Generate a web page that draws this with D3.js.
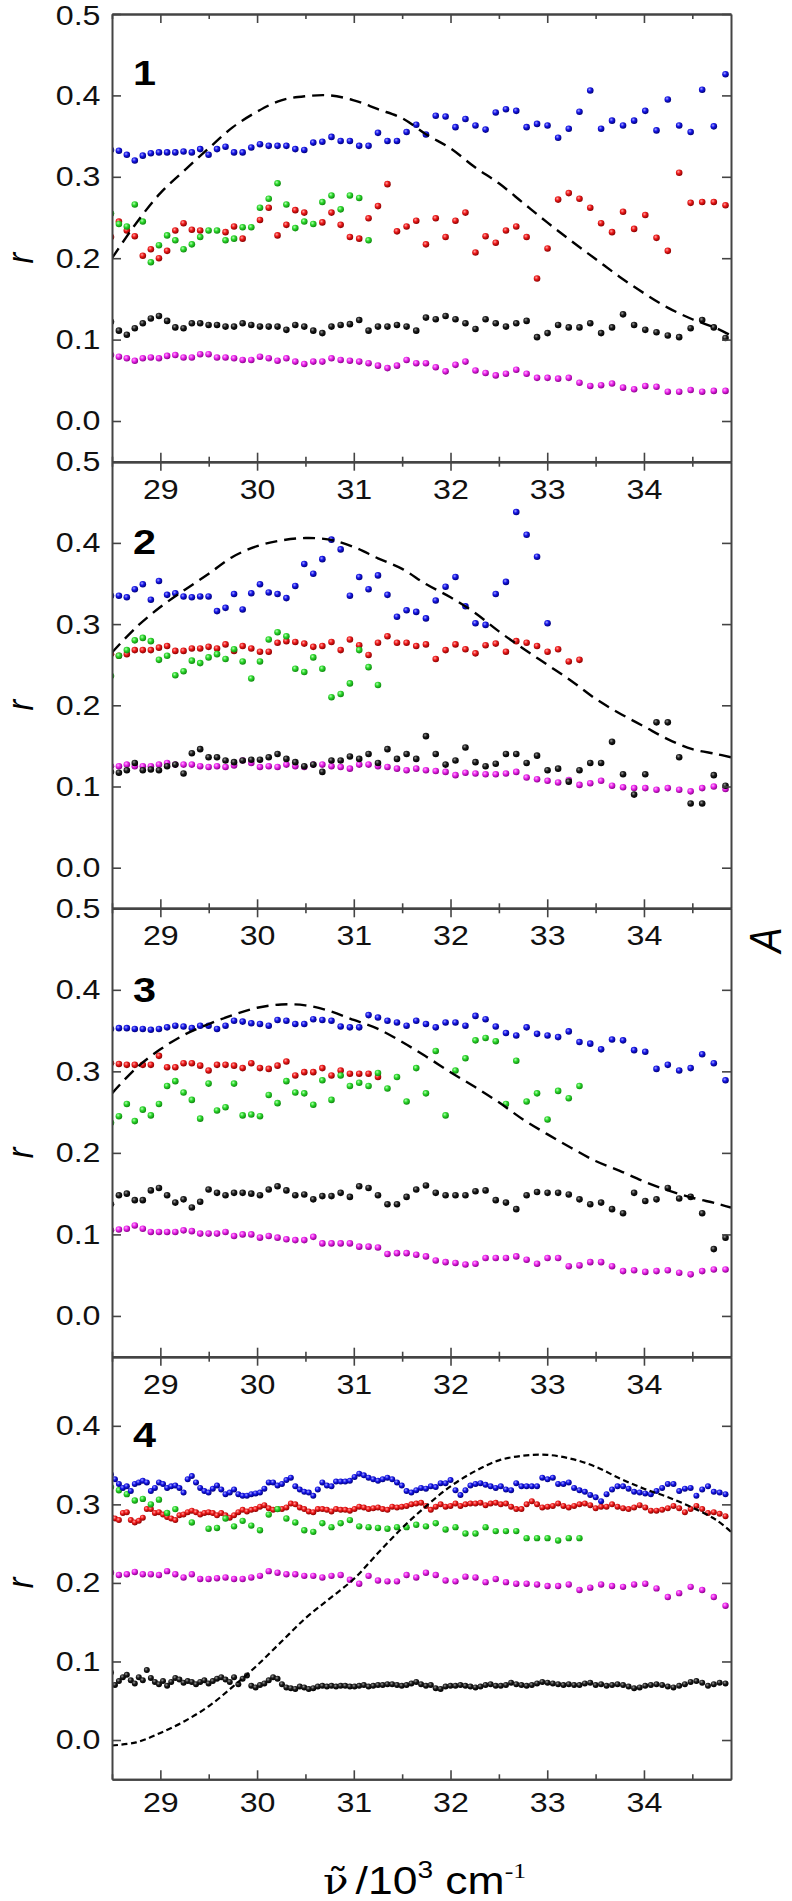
<!DOCTYPE html>
<html>
<head>
<meta charset="utf-8">
<script src="https://cdn.jsdelivr.net/npm/d3@7"></script>
<style>
body { margin: 0; background: #fff; }
svg { display: block; }
.axis path, .axis line { stroke: #444; }
.axis path { stroke-width: 2; }
.axis line { stroke-width: 1.6; }
.axis text { font-family: "Liberation Sans", Arial, sans-serif; font-size: 28px; fill: #111; }
</style>
</head>
<body>
<script>
var fullWidth = 792;
var fullHeight = 1901;
var plotLeft = 112, plotRight = 731;

// wavelength grids (nm) the points sit on
var lambda1 = [351,350,349,348,347,346,345,344,343,342,341,340,339,338,337,336,335,334,333,332,331,330,329,328,327,326,325,324,323,322,321,320,319,318,317,316,315,314,313,312,311,310,309,308,307,306,305,304,303,302,301,300,299,298,297,296,295,294,293,292,291,290,289,288,287];
var lambdaHalf = [351,350.5,350,349.5,349,348.5,348,347.5,347,346.5,346,345.5,345,344.5,344,343.5,343,342.5,342,341.5,341,340.5,340,339.5,339,338.5,338,337.5,337,336.5,336,335.5,335,334.5,334,333.5,333,332.5,332,331.5,331,330.5,330,329.5,329,328.5,328,327.5,327,326.5,326,325.5,325,324.5,324,323.5,323,322.5,322,321.5,321,320.5,320,319.5,319,318.5,318,317.5,317,316.5,316,315.5,315,314.5,314,313.5,313,312.5,312,311.5,311,310.5,310,309.5,309,308.5,308,307.5,307,306.5,306,305.5,305,304.5,304,303.5,303,302.5,302,301.5,301,300.5,300,299.5,299,298.5,298,297.5,297,296.5,296,295.5,295,294.5,294,293.5,293,292.5,292,291.5,291,290.5,290,289.5,289,288.5,288,287.5,287];

// dashed absorption curves, sampled in wavenumber
var curveNu = [28.5,28.75,29,29.25,29.5,29.75,30,30.25,30.5,30.75,31,31.25,31.5,31.75,32,32.25,32.5,32.75,33,33.25,33.5,33.75,34,34.25,34.5,34.75,34.9];
var curve1 = [0.200,0.243,0.280,0.308,0.335,0.361,0.380,0.394,0.399,0.400,0.394,0.383,0.372,0.352,0.335,0.312,0.292,0.268,0.244,0.221,0.199,0.177,0.157,0.139,0.125,0.114,0.105];
var curve2 = [0.265,0.296,0.321,0.342,0.362,0.383,0.396,0.403,0.406,0.404,0.395,0.381,0.368,0.349,0.333,0.314,0.291,0.270,0.250,0.230,0.208,0.190,0.174,0.158,0.146,0.140,0.136];
var curve3 = [0.273,0.304,0.327,0.345,0.358,0.369,0.378,0.382,0.381,0.374,0.363,0.352,0.336,0.318,0.299,0.281,0.262,0.241,0.223,0.206,0.190,0.178,0.165,0.154,0.145,0.138,0.133];
var curve4 = [-0.007,-0.003,0.009,0.024,0.043,0.068,0.095,0.125,0.155,0.180,0.205,0.238,0.270,0.298,0.323,0.342,0.356,0.362,0.363,0.358,0.348,0.333,0.320,0.309,0.296,0.280,0.265];

// panel 1
var p1Blue = [0.333,0.332,0.327,0.320,0.326,0.329,0.330,0.330,0.330,0.331,0.330,0.334,0.327,0.334,0.337,0.330,0.330,0.336,0.340,0.338,0.338,0.338,0.334,0.333,0.342,0.343,0.349,0.344,0.344,0.338,0.338,0.354,0.344,0.344,
  0.355,0.364,0.352,0.375,0.374,0.361,0.371,0.363,0.358,0.379,0.383,0.381,0.361,0.365,0.363,0.348,0.359,0.380,0.406,0.359,0.369,0.363,0.369,0.381,0.357,0.395,0.363,0.355,0.407,0.362,0.426];
var p1Red = [0.226,0.245,0.234,0.227,0.203,0.211,0.200,0.209,0.234,0.243,0.235,0.234,null,null,0.232,0.239,0.224,null,0.247,0.262,0.228,0.241,0.259,0.256,null,0.244,0.256,0.241,0.226,0.224,0.249,0.264,0.291,0.233,
  0.239,0.246,0.217,0.249,0.226,0.246,0.256,0.207,0.227,0.219,0.234,0.239,0.226,0.175,0.212,0.272,0.280,0.273,0.262,0.243,0.232,0.257,0.236,0.253,0.225,0.209,0.305,0.268,0.269,0.269,0.265];
var p1Green = [0.255,0.242,0.239,0.266,0.245,0.195,0.216,0.228,0.222,0.211,0.217,0.226,0.234,0.234,0.222,0.224,0.238,0.238,0.262,0.273,0.292,0.266,0.237,0.245,0.242,0.269,0.277,0.260,0.277,0.274,0.222];
var p1Black = [0.122,0.111,0.106,0.114,0.120,0.126,0.129,0.123,0.115,0.114,0.120,0.120,0.118,0.118,0.116,0.116,0.120,0.118,0.116,0.116,0.116,0.112,0.118,0.116,0.111,0.108,0.116,0.118,0.119,0.124,0.111,0.116,0.116,0.118,
  0.116,0.111,0.127,0.125,0.129,0.125,0.120,0.113,0.125,0.120,0.116,0.120,0.123,0.103,0.108,0.118,0.115,0.115,0.120,0.108,0.115,0.131,0.118,0.112,0.109,0.105,0.103,0.114,0.124,0.115,0.102];
var p1Magenta = [0.081,0.079,0.077,0.074,0.077,0.078,0.077,0.080,0.081,0.078,0.078,0.082,0.082,0.078,0.078,0.077,0.075,0.075,0.079,0.077,0.074,0.077,0.073,0.070,0.073,0.073,0.077,0.075,0.074,0.073,0.071,0.068,0.065,0.068,
  0.075,0.071,0.071,0.066,0.061,0.069,0.073,0.062,0.059,0.056,0.058,0.063,0.058,0.053,0.053,0.052,0.053,0.047,0.043,0.044,0.046,0.041,0.039,0.043,0.042,0.036,0.036,0.038,0.036,0.037,0.037];

// panel 2
var p2Blue = [0.335,0.335,0.333,0.343,0.349,0.330,0.353,0.336,0.338,0.334,0.333,0.334,0.334,0.316,0.320,0.337,0.318,0.338,0.349,0.339,0.337,0.332,0.347,0.374,0.362,0.380,0.404,0.392,0.335,0.358,0.343,0.360,0.336,0.309,
  0.317,0.315,0.307,0.329,0.346,0.358,0.322,0.301,0.299,0.337,0.352,0.438,0.410,0.383,0.301];
var p2Red = [0.263,0.261,0.263,0.268,0.268,0.268,0.271,0.273,0.267,0.267,0.270,0.270,0.272,0.270,0.275,0.267,0.273,0.270,0.266,0.266,0.277,0.279,0.278,0.276,0.272,0.273,0.278,0.268,0.281,0.274,0.262,0.277,0.285,0.277,
  0.277,0.273,0.275,0.257,0.268,0.275,0.269,0.264,0.274,0.276,0.266,0.279,0.277,0.273,0.266,0.269,0.254,0.256];
var p2Green = [0.236,0.261,0.268,0.280,0.283,0.279,0.256,0.261,0.237,0.242,0.255,0.252,0.259,0.263,0.257,0.269,0.254,0.233,0.254,0.281,0.290,0.285,0.245,0.241,0.259,0.245,0.210,0.214,0.227,0.268,0.247,0.225];
var p2Black = [0.118,0.117,0.120,0.129,0.120,0.121,0.120,0.125,0.127,0.116,0.141,0.146,0.136,0.136,0.132,0.130,0.132,0.133,0.133,0.136,0.140,0.134,0.130,0.125,0.127,0.118,0.132,0.132,0.137,0.134,0.140,0.129,0.146,0.134,
  0.140,0.134,0.162,0.140,0.127,0.132,0.148,0.130,0.125,0.128,0.140,0.140,0.129,0.138,0.120,0.122,0.106,0.120,0.129,0.129,0.155,0.115,0.090,0.115,0.179,0.179,0.136,0.079,0.079,0.114,0.101];
var p2Magenta = [0.125,0.125,0.127,0.125,0.125,0.125,0.127,0.129,0.127,0.127,0.127,0.125,0.124,0.125,0.124,0.126,0.132,0.129,0.124,0.125,0.124,0.127,0.125,0.124,0.127,0.127,0.125,0.124,0.122,0.127,0.127,0.125,0.124,0.122,
  0.120,0.122,0.120,0.119,0.118,0.114,0.117,0.116,0.115,0.115,0.116,0.118,0.111,0.109,0.107,0.105,0.108,0.102,0.104,0.107,0.101,0.099,0.098,0.098,0.096,0.098,0.096,0.094,0.098,0.100,0.097];

// panel 3
var p3Blue = [0.352,0.353,0.353,0.352,0.352,0.351,0.352,0.354,0.356,0.355,0.353,0.356,0.356,0.352,0.356,0.362,0.361,0.359,0.358,0.356,0.363,0.362,0.358,0.358,0.364,0.363,0.362,0.355,0.354,0.354,0.369,0.366,0.362,0.360,
  0.356,0.362,0.358,0.354,0.360,0.360,0.356,0.368,0.364,0.355,0.347,0.344,0.354,0.346,0.344,0.342,0.349,0.336,0.334,0.327,0.339,0.338,0.326,0.324,0.303,0.308,0.301,0.304,0.321,0.310,0.289];
var p3Red = [0.310,0.309,0.308,0.308,0.308,0.308,0.319,0.305,0.305,0.310,0.310,0.307,0.301,0.308,0.308,0.307,0.304,0.310,0.304,0.303,0.307,0.312,0.295,0.299,0.299,0.304,0.295,0.301,0.297,0.297,0.297,0.293];
var p3Green = [0.237,0.245,0.260,0.239,0.253,0.246,0.260,0.282,0.288,0.274,0.265,0.242,0.285,0.252,0.256,0.285,0.246,0.247,0.245,0.271,0.261,0.288,0.274,0.273,0.259,0.289,0.265,0.295,0.282,0.286,0.282,0.298,0.279,0.293,
  0.263,0.304,0.273,0.325,0.246,0.301,0.316,0.338,0.341,0.337,0.260,0.313,0.263,0.273,0.241,0.276,0.267,0.282];
var p3Black = [0.137,0.148,0.150,0.142,0.142,0.154,0.157,0.148,0.139,0.143,0.133,0.140,0.155,0.151,0.148,0.151,0.151,0.150,0.148,0.155,0.159,0.154,0.148,0.149,0.143,0.147,0.147,0.151,0.146,0.159,0.157,0.148,0.137,0.137,
  0.146,0.155,0.160,0.151,0.148,0.148,0.148,0.153,0.154,0.142,0.139,0.131,0.148,0.152,0.151,0.151,0.149,0.143,0.137,0.139,0.131,0.126,0.151,0.141,0.143,0.157,0.144,0.146,0.126,0.082,0.096];
var p3Magenta = [0.105,0.106,0.107,0.111,0.107,0.103,0.103,0.103,0.103,0.105,0.104,0.101,0.101,0.101,0.103,0.098,0.100,0.100,0.096,0.098,0.096,0.094,0.093,0.093,0.097,0.089,0.089,0.089,0.089,0.085,0.085,0.084,0.076,0.077,
  0.077,0.075,0.073,0.068,0.066,0.065,0.063,0.064,0.071,0.071,0.071,0.073,0.069,0.064,0.071,0.071,0.061,0.062,0.066,0.066,0.061,0.055,0.056,0.054,0.055,0.056,0.053,0.051,0.055,0.057,0.057];

// panel 4 (blue, red, black on the half-nm grid)
var p4Blue = [0.338,0.332,0.326,0.321,0.323,0.317,0.326,0.328,0.330,0.328,0.317,0.321,0.328,0.326,0.321,0.323,0.324,0.321,0.315,0.332,0.336,0.328,0.321,0.317,0.315,0.320,0.324,0.319,0.313,0.315,0.319,0.313,0.311,0.311,0.313,0.314,0.315,0.320,0.328,0.328,0.324,0.326,0.331,0.334,0.323,0.319,0.316,0.315,0.311,0.319,0.328,0.324,0.323,
  0.329,0.329,0.329,0.330,0.335,0.339,0.337,0.334,0.332,0.330,0.332,0.334,0.332,0.328,0.324,0.317,0.315,0.318,0.321,0.320,0.323,0.322,0.327,0.327,0.331,0.318,0.312,0.318,0.324,0.326,0.327,0.325,0.323,0.321,
  0.323,0.319,0.318,0.327,0.323,0.323,0.323,0.323,0.334,0.332,0.334,0.326,0.326,0.328,0.321,0.318,0.316,0.312,0.309,0.304,0.313,0.319,0.323,0.323,0.320,0.316,0.315,0.314,0.313,0.317,0.321,0.326,0.326,0.317,0.320,0.321,0.311,0.319,0.323,0.316,0.315,0.313];
var p4Red = [0.284,0.282,0.280,0.289,0.290,0.280,0.277,0.279,0.283,0.294,0.294,0.289,0.290,0.287,0.284,0.282,0.280,0.286,0.287,0.290,0.292,0.290,0.287,0.289,0.290,0.289,0.286,0.289,0.286,0.283,0.286,0.290,0.293,0.291,0.293,0.294,0.297,0.299,0.295,0.293,0.294,0.294,0.296,0.301,0.300,0.296,0.294,0.291,0.290,0.294,0.294,0.293,0.291,
  0.294,0.293,0.293,0.292,0.294,0.297,0.296,0.294,0.295,0.296,0.294,0.293,0.297,0.296,0.297,0.298,0.300,0.301,0.302,0.298,0.293,0.297,0.300,0.297,0.298,0.301,0.298,0.300,0.301,0.301,0.302,0.299,0.301,0.302,
  0.300,0.301,0.297,0.294,0.294,0.300,0.304,0.300,0.296,0.297,0.298,0.301,0.298,0.296,0.298,0.300,0.301,0.299,0.295,0.297,0.297,0.300,0.297,0.295,0.294,0.296,0.299,0.296,0.292,0.292,0.293,0.295,0.298,0.295,0.290,0.294,0.298,0.294,0.289,0.290,0.288,0.285];
var p4Black = [0.086,0.070,0.075,0.080,0.083,0.076,0.072,0.080,0.076,0.089,0.079,0.074,0.071,0.075,0.069,0.074,0.079,0.077,0.073,0.075,0.074,0.071,0.074,0.076,0.072,0.075,0.078,0.080,0.077,0.074,0.080,0.071,0.078,0.082,0.069,0.067,0.070,0.072,0.076,0.080,0.078,0.071,0.067,0.066,0.065,0.068,0.067,0.065,0.066,0.068,0.069,0.068,0.069,
  0.068,0.069,0.069,0.068,0.068,0.069,0.070,0.068,0.069,0.070,0.070,0.071,0.071,0.070,0.069,0.070,0.072,0.074,0.071,0.069,0.070,0.066,0.065,0.068,0.069,0.069,0.070,0.069,0.068,0.067,0.068,0.070,0.071,0.069,
  0.069,0.070,0.073,0.071,0.070,0.069,0.070,0.072,0.074,0.073,0.072,0.071,0.070,0.071,0.070,0.070,0.072,0.073,0.070,0.071,0.069,0.070,0.071,0.070,0.068,0.066,0.067,0.069,0.070,0.071,0.070,0.068,0.067,0.069,0.071,0.074,0.075,0.073,0.069,0.071,0.073,0.072];
var p4Green = [0.322,0.318,0.313,0.305,0.307,0.300,0.306,0.289,0.294,null,0.277,null,0.269,0.270,0.282,0.272,0.279,0.273,0.267,0.287,0.294,0.282,0.277,0.267,0.265,0.276,0.271,0.276,0.280,0.272,0.271,0.270,0.269,0.271,
  0.271,0.274,0.272,0.276,0.268,0.271,0.263,0.263,0.271,0.266,0.266,0.266,0.257,0.257,0.257,0.254,0.257,0.257];
var p4Magenta = [0.213,0.210,0.211,0.214,0.211,0.211,0.210,0.215,0.211,0.207,0.211,0.205,0.205,0.206,0.207,0.205,0.205,0.207,0.209,0.215,0.213,0.211,0.211,0.209,0.209,0.207,0.209,0.210,0.204,0.199,0.209,0.203,0.202,0.202,
  0.210,0.207,0.213,0.210,0.203,0.202,0.208,0.207,0.201,0.205,0.201,0.199,0.199,0.198,0.196,0.196,0.198,0.191,0.194,0.198,0.196,0.195,0.198,0.199,0.193,0.182,0.187,0.195,0.191,0.182,0.171];

var yTicks = [0, 0.1, 0.2, 0.3, 0.4, 0.5];
var xMajor = [29, 30, 31, 32, 33, 34];
var xMinor = [28.5, 29.5, 30.5, 31.5, 32.5, 33.5, 34.5];

var colors = {
    blue:    ["#a4a4ff", "#1616e8", "#00007a"],
    red:     ["#ffa4a4", "#ee1a1a", "#8a0000"],
    green:   ["#b4ffb4", "#2cd82c", "#0f8a0f"],
    black:   ["#9a9a9a", "#1c1c1c", "#000000"],
    magenta: ["#ffb0ff", "#ec26ec", "#8c008c"]
};

function ser(color, grid, values, size) {
    return {color: color, grid: grid, values: values, size: size};
}

var panels = [
    {name: "1", top: 14, bottom: 461.7, ymax: 0.5, topLabels: false, bottomLabels: false, dash: "12,7", nameY: 85, curve: curve1,
     series: [ser("magenta", lambda1, p1Magenta, 3.3), ser("black", lambda1, p1Black, 3.3), ser("red", lambda1, p1Red, 3.3),
              ser("green", lambda1, p1Green, 3.3), ser("blue", lambda1, p1Blue, 3.3)]},
    {name: "2", top: 461.7, bottom: 908.3, ymax: 0.5, topLabels: true, bottomLabels: false, dash: "12,7", nameY: 554, curve: curve2,
     series: [ser("magenta", lambda1, p2Magenta, 3.3), ser("black", lambda1, p2Black, 3.3), ser("red", lambda1, p2Red, 3.3),
              ser("green", lambda1, p2Green, 3.3), ser("blue", lambda1, p2Blue, 3.3)]},
    {name: "3", top: 908.3, bottom: 1356.7, ymax: 0.5, topLabels: true, bottomLabels: false, dash: "12,7", nameY: 1002, curve: curve3,
     series: [ser("magenta", lambda1, p3Magenta, 3.3), ser("black", lambda1, p3Black, 3.3), ser("red", lambda1, p3Red, 3.3),
              ser("green", lambda1, p3Green, 3.3), ser("blue", lambda1, p3Blue, 3.3)]},
    {name: "4", top: 1356.7, bottom: 1779.3, ymax: 0.488, topLabels: true, bottomLabels: true, dash: "6,3.5", nameY: 1447, curve: curve4,
     series: [ser("magenta", lambda1, p4Magenta, 3.2), ser("black", lambdaHalf, p4Black, 3.0), ser("red", lambdaHalf, p4Red, 3.0),
              ser("green", lambda1, p4Green, 3.2), ser("blue", lambdaHalf, p4Blue, 3.0)]}
];

var svg = d3.select("body").append("svg")
            .attr("width", fullWidth)
            .attr("height", fullHeight)
            .style("background", "#fff");

var defs = svg.append("defs");

// shaded sphere look of the markers
Object.keys(colors).forEach(function(k) {
    var grad = defs.append("radialGradient")
                   .attr("id", "grad-" + k)
                   .attr("cx", "38%").attr("cy", "35%").attr("r", "65%");
    grad.append("stop").attr("offset", "0%").attr("stop-color", colors[k][0]);
    grad.append("stop").attr("offset", "45%").attr("stop-color", colors[k][1]);
    grad.append("stop").attr("offset", "100%").attr("stop-color", colors[k][2]);
});

var xScale = d3.scaleLinear()
               .domain([28.5, 34.9])
               .range([plotLeft, plotRight]);

var stretch = "scale(1.15,1)";

panels.forEach(function(p, i) {

    var yScale = d3.scaleLinear()
                   .domain([-0.05, p.ymax])
                   .range([p.bottom, p.top]);

    defs.append("clipPath")
        .attr("id", "clip" + i)
        .append("rect")
        .attr("x", plotLeft)
        .attr("y", p.top)
        .attr("width", plotRight - plotLeft)
        .attr("height", p.bottom - p.top);

    var plot = svg.append("g").attr("clip-path", "url(#clip" + i + ")");

    // scatter points
    p.series.forEach(function(s) {
        var pts = [];
        s.values.forEach(function(v, j) {
            if (v !== null) pts.push({nu: 1e4 / s.grid[j], r: v});
        });
        plot.append("g")
            .selectAll("circle")
            .data(pts)
            .enter()
            .append("circle")
            .attr("cx", function(d) { return xScale(d.nu); })
            .attr("cy", function(d) { return yScale(d.r); })
            .attr("r", s.size)
            .attr("fill", "url(#grad-" + s.color + ")");
    });

    // dashed absorption curve
    var line = d3.line()
                 .x(function(d, j) { return xScale(curveNu[j]); })
                 .y(function(d) { return yScale(d); })
                 .curve(d3.curveCatmullRom);

    plot.append("path")
        .datum(p.curve)
        .attr("d", line)
        .attr("fill", "none")
        .attr("stroke", "#000")
        .attr("stroke-width", p.name === "4" ? 2.2 : 2.4)
        .attr("stroke-dasharray", p.dash);

    var yt = yTicks.filter(function(v) { return v <= p.ymax + 1e-9; });

    // left axis with labels, ticks inward
    svg.append("g")
       .attr("class", "axis")
       .attr("transform", "translate(" + plotLeft + ",0)")
       .call(d3.axisLeft(yScale).tickValues(yt).tickFormat(d3.format(".1f"))
               .tickSizeInner(-9).tickSizeOuter(0).tickPadding(10))
       .selectAll("text")
       .attr("transform", stretch)
       // keep the very top label inside the page
       .attr("y", function(d) { return (i === 0 && d === 0.5) ? 2 : 0; });

    // right axis (A), ticks only
    svg.append("g")
       .attr("class", "axis")
       .attr("transform", "translate(" + plotRight + ",0)")
       .call(d3.axisRight(yScale).tickValues(yt).tickFormat("")
               .tickSizeInner(-9).tickSizeOuter(0));

    // top axis
    var topAxis = p.topLabels
        ? d3.axisBottom(xScale).tickValues(xMajor).tickFormat(d3.format("d")).tickSizeInner(9).tickPadding(8)
        : d3.axisTop(xScale).tickValues(xMajor).tickFormat("").tickSizeInner(-9);
    svg.append("g")
       .attr("class", "axis")
       .attr("transform", "translate(0," + p.top + ")")
       .call(topAxis.tickSizeOuter(0))
       .selectAll("text")
       .attr("transform", stretch);

    svg.append("g")
       .attr("class", "axis")
       .attr("transform", "translate(0," + p.top + ")")
       .call(d3.axisBottom(xScale).tickValues(xMinor).tickFormat("").tickSizeInner(5).tickSizeOuter(0));

    // bottom axis
    var bottomAxis = p.bottomLabels
        ? d3.axisBottom(xScale).tickValues(xMajor).tickFormat(d3.format("d")).tickSizeInner(-9).tickPadding(13)
        : d3.axisTop(xScale).tickValues(xMajor).tickFormat("").tickSizeInner(9);
    svg.append("g")
       .attr("class", "axis")
       .attr("transform", "translate(0," + p.bottom + ")")
       .call(bottomAxis.tickSizeOuter(0))
       .selectAll("text")
       .attr("transform", stretch);

    svg.append("g")
       .attr("class", "axis")
       .attr("transform", "translate(0," + p.bottom + ")")
       .call(d3.axisTop(xScale).tickValues(xMinor).tickFormat("").tickSizeInner(5).tickSizeOuter(0));

    // panel number
    svg.append("g")
       .attr("transform", "translate(" + (plotLeft + 21) + "," + p.nameY + ") " + stretch)
       .append("text")
       .style("font-family", "'Liberation Sans', Arial, sans-serif")
       .style("font-weight", "bold")
       .style("font-size", "36px")
       .text(p.name);

    // y axis name
    svg.append("g")
       .attr("transform", "translate(33," + yScale(0.2) + ") " + stretch + " rotate(-90)")
       .append("text")
       .style("font-family", "'Liberation Sans', Arial, sans-serif")
       .style("font-style", "italic")
       .style("font-size", "32px")
       .style("text-anchor", "middle")
       .text("r");
});

// right-hand axis name
svg.append("g")
   .attr("transform", "translate(781,940) scale(1.15,1) rotate(-90)")
   .append("text")
   .style("font-family", "'Liberation Sans', Arial, sans-serif")
   .style("font-style", "italic")
   .style("font-size", "38px")
   .style("text-anchor", "middle")
   .text("A");

// x axis name: nu with a combining tilde, then the unit
var titleG = svg.append("g")
                .attr("transform", "translate(323,1894) scale(1.17,1)");

var nuText = titleG.append("text")
                   .style("font-family", "'DejaVu Serif', serif")
                   .style("font-size", "36px")
                   .text("\u03BD\u0303");
var nuWidth = nuText.node().getComputedTextLength();

var unit = titleG.append("text")
                 .attr("x", nuWidth + 6)
                 .style("font-family", "'Liberation Sans', Arial, sans-serif")
                 .style("font-size", "38px");
unit.append("tspan").text("/10");
unit.append("tspan").attr("dy", -16).style("font-size", "24px").text("3");
unit.append("tspan").attr("dy", 16).text(" cm");
unit.append("tspan").attr("dy", -16).style("font-size", "22px").style("font-family", "'Liberation Serif', serif").text("-1");
</script>
</body>
</html>
